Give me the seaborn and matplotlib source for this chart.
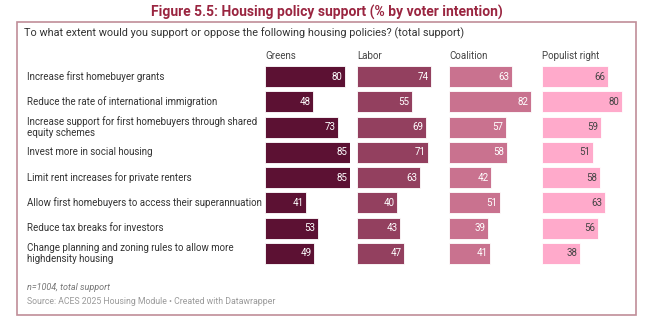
import matplotlib
matplotlib.use("Agg")
import matplotlib.pyplot as plt
import matplotlib.transforms as mtransforms
from matplotlib.patches import Rectangle
import seaborn as sns
import pandas as pd

policies = [
    "Increase first homebuyer grants",
    "Reduce the rate of international immigration",
    "Increase support for first homebuyers through shared\nequity schemes",
    "Invest more in social housing",
    "Limit rent increases for private renters",
    "Allow first homebuyers to access their superannuation",
    "Reduce tax breaks for investors",
    "Change planning and zoning rules to allow more\nhighdensity housing",
]
groups = ["Greens", "Labor", "Coalition", "Populist right"]
greens = [80, 48, 73, 85, 85, 41, 53, 49]
labor = [74, 55, 69, 71, 63, 40, 43, 47]
coalition = [63, 82, 57, 58, 42, 51, 39, 41]
populist = [66, 80, 59, 51, 58, 63, 56, 38]

colors = ["#5c1133", "#93405f", "#c9728f", "#ffaacb"]
text_colors = ["white", "white", "white", "#444444"]

rows = []
for g, vals in zip(groups, [greens, labor, coalition, populist]):
    for p, v in zip(policies, vals):
        rows.append({"group": g, "policy": p, "value": v})
df = pd.DataFrame(rows)

sns.set_theme(style="white")
plt.rcParams["font.family"] = ["Roboto", "DejaVu Sans"]

W, H = 654, 332
fig = plt.figure(figsize=(W / 100, H / 100), dpi=100)

def fx(px):
    return px / W

def fy(py):
    return 1 - py / H

# Border box
fig.patches.append(Rectangle((fx(17), fy(315)), fx(636) - fx(17), fy(22) - fy(315),
                             transform=fig.transFigure, fill=False,
                             edgecolor="#c08e98", linewidth=1.2))

fig.text(0.5, fy(12), "Figure 5.5: Housing policy support (% by voter intention)",
         ha="center", va="center", fontsize=10, fontweight="bold", color="#9a2540")
fig.text(fx(24), fy(33), "To what extent would you support or oppose the following housing policies? (total support)",
         ha="left", va="center", fontsize=7.8, color="#333333")

lefts = [265, 357, 449, 542]
ax_top, ax_bot = 64, 266
axes = []
for i, g in enumerate(groups):
    ax = fig.add_axes([fx(lefts[i]), fy(ax_bot), 85 / W, (ax_bot - ax_top) / H])
    sub = df[df["group"] == g]
    sns.barplot(data=sub, x="value", y="policy", order=policies, color=colors[i],
                width=0.83, ax=ax, saturation=1, edgecolor="white", linewidth=0.6)
    ax.set_xlim(0, 85)
    ax.set_ylim(len(policies) - 0.5, -0.5)
    ax.axis("off")
    for j, v in enumerate(sub["value"].tolist()):
        ax.text(v - 2.5, j, str(v), ha="right", va="center", fontsize=7,
                color=text_colors[i])
    ax.text(0, -0.62, g, ha="left", va="bottom", fontsize=7, color="#444444")
    axes.append(ax)

trans = mtransforms.blended_transform_factory(fig.transFigure, axes[0].transData)
for j, p in enumerate(policies):
    axes[0].text(fx(27), j, p, transform=trans, ha="left", va="center",
                 fontsize=7, color="#333333", linespacing=1.15)

fig.text(fx(27), fy(287), "n=1004, total support", ha="left", va="center",
         fontsize=6.5, style="italic", color="#777777")
fig.text(fx(27), fy(301), "Source: ACES 2025 Housing Module \u2022 Created with Datawrapper",
         ha="left", va="center", fontsize=6.3, color="#9a9a9a")

fig.savefig("out.png", dpi=100)
